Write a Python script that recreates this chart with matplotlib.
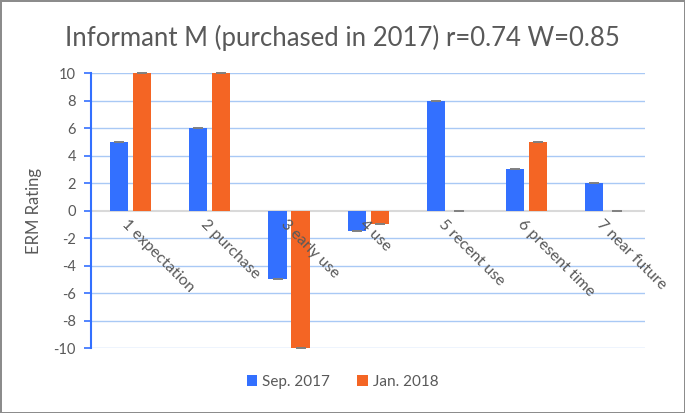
import numpy as np
import matplotlib
matplotlib.use("Agg")
import matplotlib.pyplot as plt

plt.rcParams['font.family'] = ['Lato', 'DejaVu Sans']

categories = ["1 expectation", "2 purchase", "3 early use", "4 use",
              "5 recent use", "6 present time", "7 near future"]
sep_2017 = [5, 6, -5, -1.5, 8, 3, 2]
jan_2018 = [10, 10, -10, -1, 0, 5, 0]
yticks = list(range(-10, 11, 2))

blue = "#3370FF"
orange = "#F46524"
grid_blue = "#A9C9F5"
txt = "#595959"

fig = plt.figure(figsize=(6.85, 4.13), dpi=100)
fig.patch.set_edgecolor("#8C8C8C")
fig.patch.set_linewidth(2)
ax = fig.add_axes([0.133, 0.157, 0.809, 0.666])

x = np.arange(len(categories))
w = 0.23
off = 0.145

# grid
for t in yticks:
    if t != 0:
        ax.axhline(t, color=grid_blue, lw=1, zorder=0)

ax.bar(x - off, sep_2017, w, color=blue, label="Sep. 2017", zorder=2)
ax.bar(x + off, jan_2018, w, color=orange, label="Jan. 2018", zorder=2)
for vals, xs in [(sep_2017, x - off), (jan_2018, x + off)]:
    eb = ax.errorbar(xs, vals, yerr=0, fmt="none", ecolor="#808080",
                     capsize=3.5, capthick=1.2, elinewidth=0, zorder=3)
    for cap in eb[1]:
        cap.set_clip_on(False)
ax.axhline(0, color="#D9D9D9", lw=1.5, zorder=1)

ax.set_xlim(-0.5, len(categories) - 0.5)
ax.set_ylim(-10, 10)
ax.set_yticks(yticks)
ax.set_yticklabels([str(t) for t in yticks], fontsize=10.5, color=txt)
ax.set_xticks([])
for s in ["top", "right", "bottom"]:
    ax.spines[s].set_visible(False)
ax.spines["left"].set_color(blue)
ax.spines["left"].set_linewidth(1.5)
ax.tick_params(axis="y", colors=blue, length=5, width=1.2, pad=6,
               labelcolor=txt)

for i, c in enumerate(categories):
    ax.text(i - 0.02, -0.45, c, rotation=-45, rotation_mode="anchor",
            ha="left", va="top", fontsize=11.5, color=txt, zorder=4)

ax.set_ylabel("ERM Rating", fontsize=12, color=txt, labelpad=8)

fig.suptitle("Informant M (purchased in 2017) r=0.74 W=0.85",
             fontsize=18.5, color=txt, y=0.94)

leg = fig.legend(loc="center", bbox_to_anchor=(0.5, 0.075), ncol=2,
                 frameon=False, fontsize=11, handlelength=0.7,
                 handleheight=0.7, handletextpad=0.3, columnspacing=1.8)
for t in leg.get_texts():
    t.set_color(txt)

fig.savefig("out.png", dpi=100, edgecolor=fig.get_edgecolor())
